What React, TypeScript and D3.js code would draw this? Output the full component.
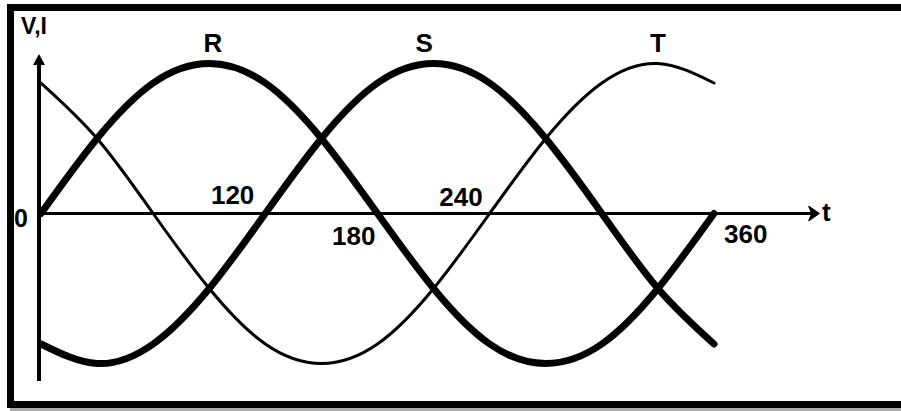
import React from "react";
import * as d3 from "d3";

// ---- data (normalised amplitude, every 30 degrees) ----
const degrees = [0, 30, 60, 90, 120, 150, 180, 210, 240, 270, 300, 330, 360];
const phaseR = [0, 0.5, 0.87, 1, 0.87, 0.5, 0, -0.5, -0.87, -1, -0.87, -0.5, 0];
const phaseS = [-0.87, -1, -0.87, -0.5, 0, 0.5, 0.87, 1, 0.87, 0.5, 0, -0.5, -0.87];
const phaseT = [0.87, 0.5, 0, -0.5, -0.87, -1, -0.87, -0.5, 0, 0.5, 0.87, 1, 0.87];
const seriesNames = ["R", "S", "T"];
const seriesLabelDeg = [92, 205, 330];
const tickDegrees = [120, 180, 240, 360];
const tickLabels = ["120", "180", "240", "360"];
const axisLabelY = "V,I";
const axisLabelX = "t";
const originLabel = "0";

const W = 901;
const H = 411;
const FONT = "'Liberation Sans', Arial, Helvetica, sans-serif";

export default function App() {
  const x = d3.scaleLinear().domain([0, 360]).range([41, 714]);
  const y = d3.scaleLinear().domain([-1, 1]).range([363.5, 63.5]);
  const y0 = y(0);

  const line = d3
    .line<[number, number]>()
    .x((d) => x(d[0]))
    .y((d) => y(d[1]))
    .curve(d3.curveNatural);

  const series = [phaseR, phaseS, phaseT].map((vals) =>
    degrees.map((d, i) => [d, vals[i]] as [number, number])
  );
  const widths = [7, 7, 3];

  // tick label placement (style/layout)
  const tickLayout = [
    { anchor: "end", dx: -11, dy: -10 },
    { anchor: "end", dx: -2, dy: 31 },
    { anchor: "end", dx: -7, dy: -8 },
    { anchor: "start", dx: 10, dy: 29 },
  ];

  return (
    <svg
      width={W}
      height={H}
      style={{ position: "absolute", left: 0, top: 0, background: "#fff" }}
    >
      <rect x={0} y={0} width={W} height={H} fill="#fff" />
      {/* shadow + frame */}
      <rect x={10} y={407} width={W} height={4} fill="#aaa" />
      <rect x={10.5} y={7.5} width={W + 20} height={397} fill="none" stroke="#000" strokeWidth={7} />

      {/* axes */}
      <line x1={39} x2={39} y1={62} y2={381} stroke="#000" strokeWidth={4} />
      <path d="M39,54 L33,65 L45,65 Z" fill="#000" />
      <line x1={39} x2={812} y1={y0} y2={y0} stroke="#000" strokeWidth={3} />
      <path d={`M819,${y0} L809,${y0 - 7} L812,${y0} L809,${y0 + 7} Z`} fill="#000" stroke="#000" strokeWidth={1.5} strokeLinejoin="round" />

      {/* curves */}
      {series.map((s, i) => (
        <path
          key={seriesNames[i]}
          d={line(s) || ""}
          fill="none"
          stroke="#000"
          strokeWidth={widths[i]}
          strokeLinecap="round"
          strokeLinejoin="round"
        />
      ))}

      {/* texts */}
      <g fontFamily={FONT} fontWeight="bold" fill="#000">
        <text x={21} y={34} fontSize={23}>{axisLabelY}</text>
        <text x={21} y={227} fontSize={25} textAnchor="middle">{originLabel}</text>
        <text x={822} y={221} fontSize={26}>{axisLabelX}</text>
        {seriesNames.map((n, i) => (
          <text key={n} x={x(seriesLabelDeg[i])} y={52} fontSize={26} textAnchor="middle">
            {n}
          </text>
        ))}
        {tickLabels.map((t, i) => (
          <text
            key={t}
            x={x(tickDegrees[i]) + tickLayout[i].dx}
            y={y0 + tickLayout[i].dy}
            fontSize={26}
            textAnchor={tickLayout[i].anchor as any}
          >
            {t}
          </text>
        ))}
      </g>
    </svg>
  );
}
